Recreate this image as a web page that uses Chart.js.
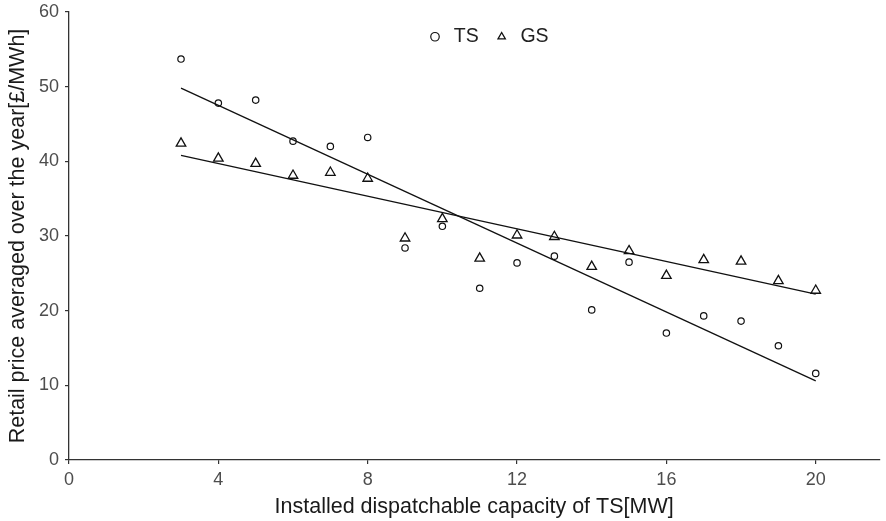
<!DOCTYPE html>
<html>
<head>
<meta charset="utf-8">
<script src="https://cdn.jsdelivr.net/npm/chart.js@4.4.1/dist/chart.umd.min.js"></script>
<style>
  html, body { margin: 0; padding: 0; background: #fff; }
  canvas { display: block; }
</style>
</head>
<body>
<canvas id="chart" width="886" height="521"></canvas>
<script>
// installed capacity of TS (MW)
const capacity = [3, 4, 5, 6, 7, 8, 9, 10, 11, 12, 13, 14, 15, 16, 17, 18, 19, 20];
// retail price
const priceTS = [53.7, 47.8, 48.2, 42.7, 42.0, 43.2, 28.4, 31.3, 23.0, 26.4, 27.3, 20.1, 26.5, 17.0, 19.3, 18.6, 15.3, 11.6];
const priceGS = [42.4, 40.4, 39.7, 38.1, 38.5, 37.7, 29.7, 32.3, 27.0, 30.1, 29.9, 25.9, 28.0, 24.7, 26.8, 26.6, 24.0, 22.7];
// fitted trend lines (end points)
const fitX = [3, 20];
const fitTS = [49.8, 10.6];
const fitGS = [40.8, 22.2];

const FONT = "'Liberation Sans', Arial, sans-serif";

function toPoints(xs, ys) {
  return xs.map((x, i) => ({ x: x, y: ys[i] }));
}

// legend sits inside the plot, in one row, right of centre
const legendRow = {
  id: 'legendRow',
  beforeUpdate(chart) {
    if (chart.legend) chart.legend.isHorizontal = () => true;
  },
  afterLayout(chart) {
    const lg = chart.legend;
    const pad = lg.options.labels.padding;
    lg.left = 412;
    lg.right = 412 + lg.lineWidths[0] + pad;
    lg.top = chart.chartArea.top + 1;
  }
};

// no extra room for the end tick labels, plot edges are set by layout padding
const noLabelPad = s => {
  s.paddingTop = 0; s.paddingBottom = 0;
  s.paddingLeft = 0; s.paddingRight = 0;
};

new Chart(document.getElementById('chart'), {
  type: 'scatter',
  data: {
    datasets: [{
      label: 'TS',
      data: toPoints(capacity, priceTS),
      pointStyle: 'circle',
      pointRadius: 3.2,
      borderColor: '#111',
      backgroundColor: 'rgba(0,0,0,0)',
      borderWidth: 1.2
    }, {
      label: 'GS',
      data: toPoints(capacity, priceGS),
      pointStyle: 'triangle',
      pointRadius: 5.5,
      borderColor: '#111',
      backgroundColor: 'rgba(0,0,0,0)',
      borderWidth: 1.3
    }, {
      label: 'fitTS',
      data: toPoints(fitX, fitTS),
      showLine: true,
      pointRadius: 0,
      borderColor: '#111',
      borderWidth: 1.3
    }, {
      label: 'fitGS',
      data: toPoints(fitX, fitGS),
      showLine: true,
      pointRadius: 0,
      borderColor: '#111',
      borderWidth: 1.3
    }]
  },
  options: {
    responsive: false,
    animation: false,
    layout: { padding: { top: 12, right: 6, left: 0, bottom: 0 } },
    plugins: {
      tooltip: { enabled: false },
      legend: {
        position: 'chartArea',
        align: 'start',
        labels: {
          usePointStyle: true,
          boxWidth: 18,
          boxHeight: 6,
          padding: 14,
          color: '#222',
          font: { family: FONT, size: 19.5 },
          filter: item => item.text === 'TS' || item.text === 'GS'
        }
      }
    },
    scales: {
      x: {
        type: 'linear',
        min: 0,
        max: 21.7,
        afterFit: s => { s.height = 61; noLabelPad(s); },
        ticks: {
          stepSize: 4,
          includeBounds: false,
          padding: 5,
          color: '#4d4d4d',
          font: { family: FONT, size: 18 }
        },
        grid: { drawOnChartArea: false, drawTicks: true, tickLength: 4, color: '#333', lineWidth: 1.2 },
        border: { display: true, color: '#333', width: 1.3 },
        title: {
          display: true,
          text: 'Installed dispatchable capacity of TS[MW]',
          color: '#1a1a1a',
          font: { family: FONT, size: 21.5 },
          padding: { top: 4, bottom: 1 }
        }
      },
      y: {
        type: 'linear',
        min: 0,
        max: 60,
        afterFit: s => { s.width = 69; noLabelPad(s); },
        ticks: {
          stepSize: 10,
          padding: 6,
          color: '#4d4d4d',
          font: { family: FONT, size: 18 }
        },
        grid: { drawOnChartArea: false, drawTicks: true, tickLength: 4, color: '#333', lineWidth: 1.2 },
        border: { display: true, color: '#333', width: 1.3 },
        title: {
          display: true,
          text: 'Retail price averaged over the year[£/MWh]',
          color: '#1a1a1a',
          font: { family: FONT, size: 21.5 },
          padding: { top: 5, bottom: 4 }
        }
      }
    }
  },
  plugins: [legendRow]
});
</script>
</body>
</html>
